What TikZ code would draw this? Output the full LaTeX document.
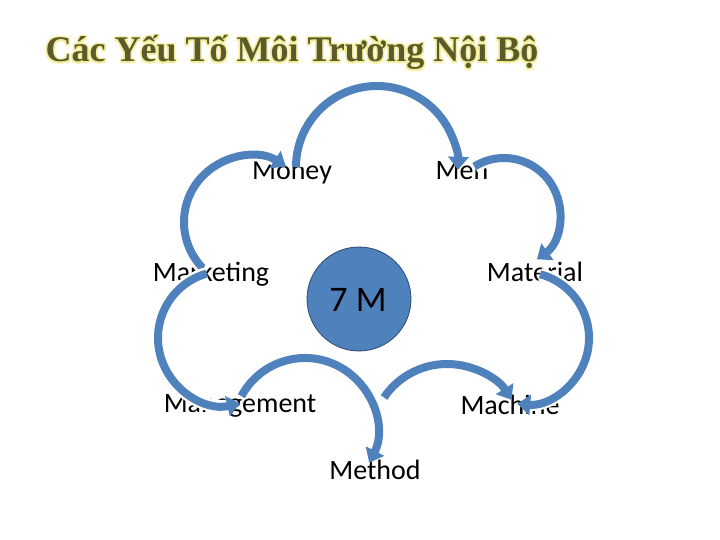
\documentclass[tikz,border=0pt]{standalone}
\usepackage{fontspec}
\setmainfont{Carlito}
\newfontfamily\titlefont{Liberation Serif}
\usetikzlibrary{arrows.meta}
\definecolor{arcblue}{HTML}{4F81BD}
\definecolor{titleolive}{HTML}{5B5A2C}
\definecolor{glow}{HTML}{F4EE9A}
\definecolor{rim}{HTML}{2C4A70}
\begin{document}
\begin{tikzpicture}[x=1pt,y=1pt,
  lbl/.style={font=\fontsize{28}{30}\selectfont, anchor=base, inner sep=0pt},
  ttl/.style={font=\titlefont\bfseries\fontsize{36}{40}\selectfont, anchor=base, inner sep=0pt},
  halo/.style={white, line width=13pt, shorten >=10pt},
  flow/.style={arcblue, line width=8pt, -{Triangle[length=13pt,width=20pt]}},
]
\useasboundingbox (0,0) rectangle (720,540);
\fill[white] (0,0) rectangle (720,540);
% title with glow
\foreach \dx/\dy [count=\i] in {1.5/0,-1.5/0,0/1.5,0/-1.5,1.2/1.2,-1.2/1.2,1.2/-1.2,-1.2/-1.2}
  \node[ttl, text=glow] (glow\i) at (292+\dx,478+\dy) {Các Yếu Tố Môi Trường Nội Bộ};
\node[ttl, text=titleolive] (title) at (292,478) {Các Yếu Tố Môi Trường Nội Bộ};
% centre
\node[circle, fill=arcblue, draw=rim, line width=0.8pt, minimum size=104pt, inner sep=0pt] (core) at (359,241) {};
\node[font=\fontsize{36}{40}\selectfont, anchor=base, inner sep=0pt] (coretext) at (358,228) {7 M};
% labels
\node[lbl] (money) at (292,360) {Money};
\node[lbl] (men) at (462,360) {Men};
\node[lbl] (marketing) at (211,258) {Marketing};
\node[lbl] (material) at (535,258) {Material};
\node[lbl] (management) at (240,127) {Management};
\node[lbl] (machine) at (510,125) {Machine};
\node[lbl] (method) at (375,60) {Method};
% arc centres
\coordinate (cA) at (377,373);
\coordinate (cB) at (504,326);
\coordinate (cC) at (523,202);
\coordinate (cD) at (447,100);
\coordinate (cE) at (305,110);
\coordinate (cF) at (225,202);
\coordinate (cG) at (250,318);
% arcs
\foreach \c/\sa/\ea/\r in {cG/224/57/66, cA/180/-2/81, cB/122/-54/56, cC/75/-95/66, cF/106/283/67, cE/152/-27/72, cD/146/32/76} {
  \draw[halo] ([shift={(\sa:\r)}]\c) arc[start angle=\sa, end angle=\ea, radius=\r];
  \draw[flow] ([shift={(\sa:\r)}]\c) arc[start angle=\sa, end angle=\ea, radius=\r];
}
\end{tikzpicture}
\end{document}
